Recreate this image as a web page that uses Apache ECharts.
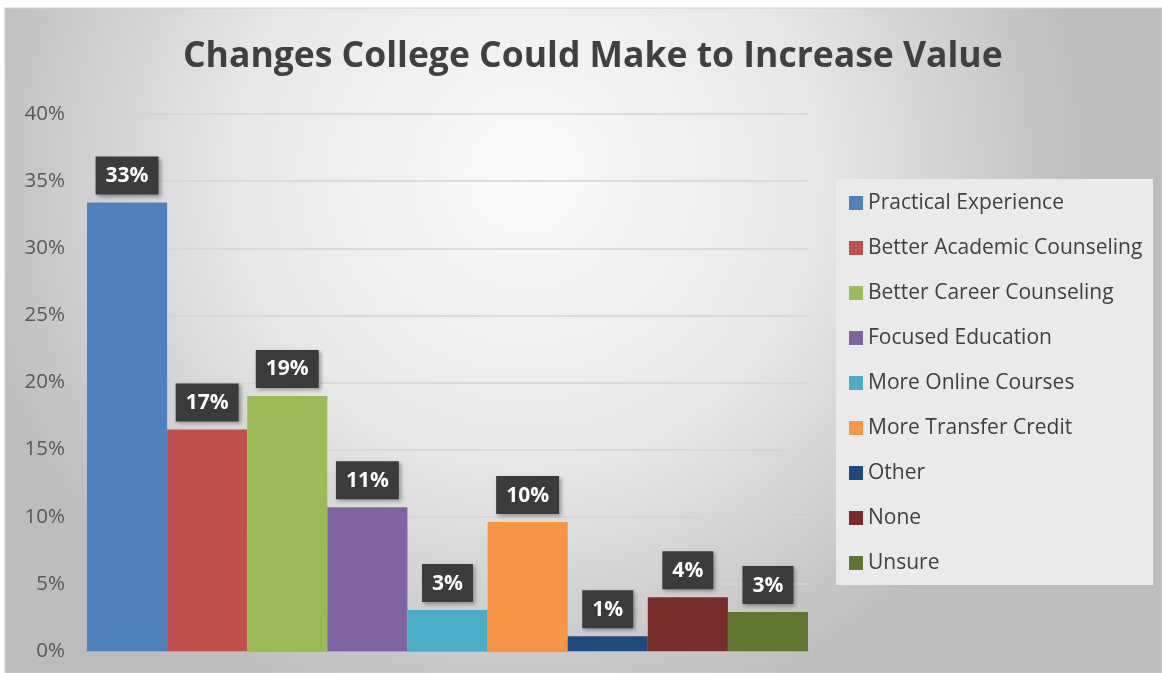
<!DOCTYPE html>
<html><head><meta charset="utf-8">
<script src="https://cdn.jsdelivr.net/npm/echarts@6/dist/echarts.min.js"></script>
<style>html,body{margin:0;padding:0;background:#fff}#c{width:1162px;height:673px}</style>
</head><body><div id="c"></div>
<script>
const titleText = "Changes College Could Make to Increase Value";
const seriesNames = ["Practical Experience","Better Academic Counseling","Better Career Counseling","Focused Education","More Online Courses","More Transfer Credit","Other","None","Unsure"];
const seriesValues = [33.4, 16.5, 19.0, 10.7, 3.05, 9.6, 1.1, 4.0, 2.9];
const seriesColors = ["#4f81bd","#c0504d","#9bbb59","#8064a2","#4bacc6","#f79646","#1f497d","#772c2a","#5f7530"];
const yTicks = [0,5,10,15,20,25,30,35,40];

const chart = echarts.init(document.getElementById('c'));
const series = seriesNames.map((n,i)=>({
  name:n, type:'bar', data:[seriesValues[i]],
  barGap:'0%', barCategoryGap:'0%',
  itemStyle:{color:seriesColors[i]},
  label:{show:true, position:'top', distance:8,
    formatter:p=>Math.round(p.value)+'%',
    color:'#fff', fontWeight:'bold', fontSize:21, fontFamily:'Open Sans',
    backgroundColor:'#3b3b3b', padding:[9,10,8,10],
    shadowColor:'rgba(0,0,0,0.35)', shadowBlur:4, shadowOffsetX:2, shadowOffsetY:2}
}));
chart.setOption({
  animation:false,
  graphic:[
    {type:'rect', z:-10, shape:{x:5,y:8,width:1157,height:665},
      style:{fill:new echarts.graphic.RadialGradient(0.45,0.25,0.85,[{offset:0,color:'#fbfbfb'},{offset:0.5,color:'#e8e8e8'},{offset:1,color:'#bdbdbd'}]), stroke:'#cfcfcf'}},
    {type:'rect', z:-9, shape:{x:836,y:179,width:317,height:406}, style:{fill:'#eaeaea'}}
  ],
  title:{text:titleText, left:178, top:34,
    textStyle:{fontFamily:'Open Sans', fontWeight:'bold', fontSize:35.5, color:'#404040'}},
  legend:{orient:'vertical', left:844, top:186, itemWidth:14, itemHeight:14, itemGap:21,
    icon:'rect',
    textStyle:{fontFamily:'Open Sans', fontSize:21, color:'#404040', lineHeight:24},
    data:seriesNames},
  grid:{left:87, right:354, top:114, bottom:22},
  xAxis:{type:'category', data:[''], axisLine:{lineStyle:{color:'#9a9a9a', width:1.5}}, axisTick:{show:false}, axisLabel:{show:false}},
  yAxis:{type:'value', min:0, max:40, interval:5,
    axisLabel:{formatter:v=>v+'%', fontFamily:'Open Sans', fontSize:20.5, color:'#595959', margin:22},
    splitLine:{lineStyle:{color:'#d4d4d4', width:1.5}}, axisLine:{show:false}, axisTick:{show:false}},
  series:series
});
</script></body></html>
